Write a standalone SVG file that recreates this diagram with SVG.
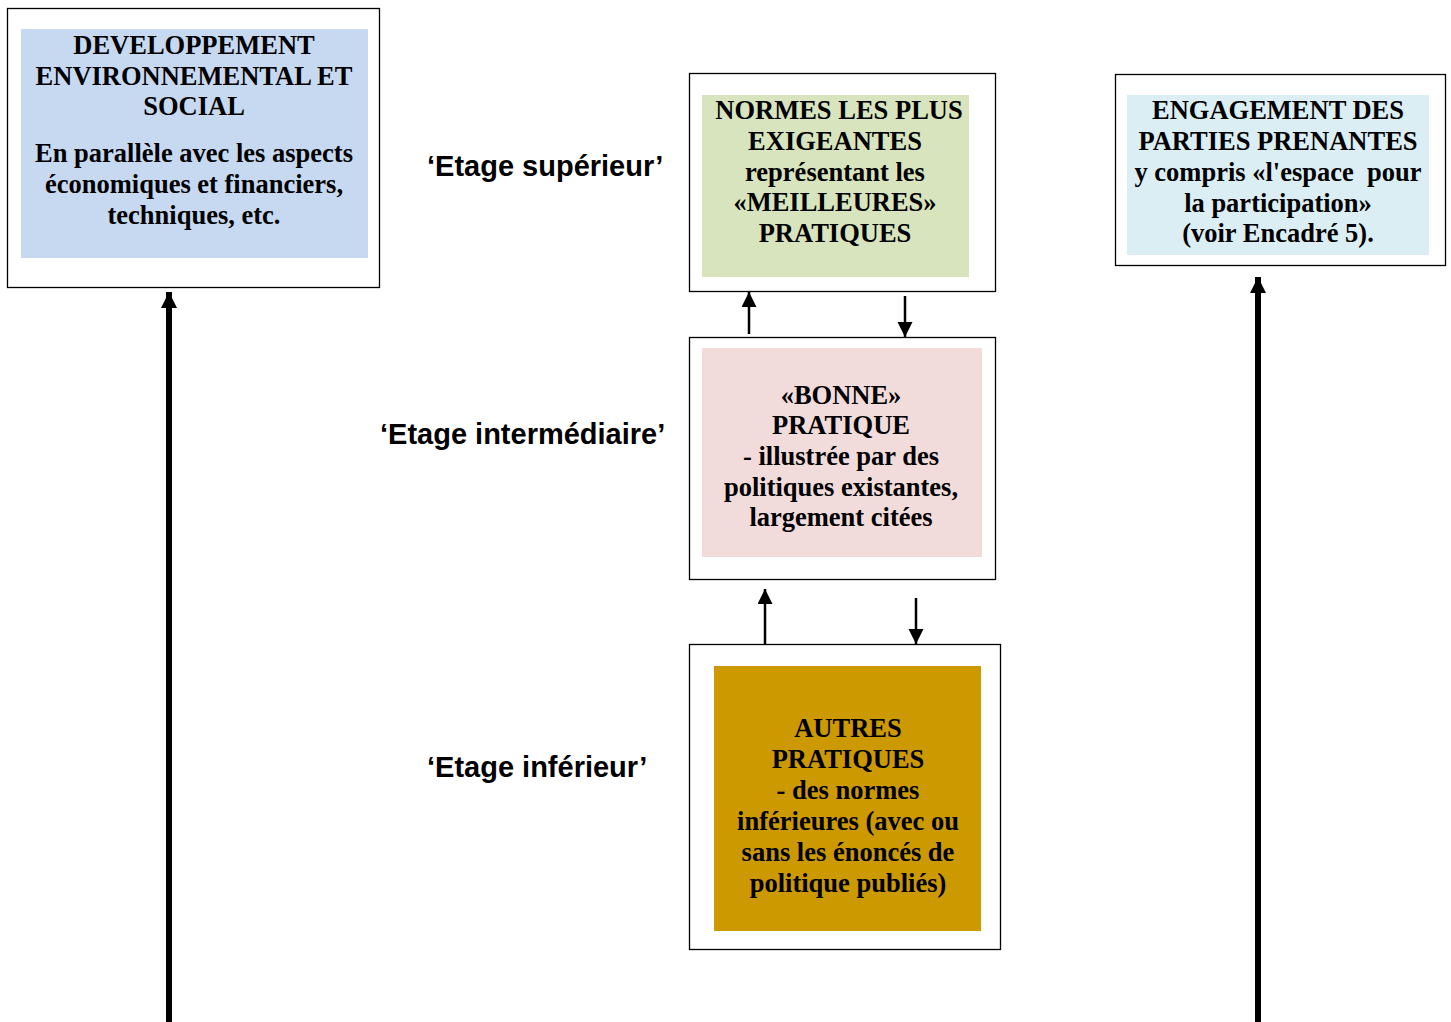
<svg xmlns="http://www.w3.org/2000/svg" width="1451" height="1022" viewBox="0 0 1451 1022">
<style>
.outer{fill:#fff;stroke:#000;stroke-width:1.3}
.t{font-family:"Liberation Serif","Times New Roman",serif;font-weight:bold;font-size:26.5px;fill:#000;text-anchor:middle}
.lbl{font-family:"Liberation Sans",Arial,sans-serif;font-weight:bold;font-size:29px;fill:#000}
.thin{stroke:#000;stroke-width:2.5;fill:none}
.thick{stroke:#000;stroke-width:6;fill:none}
</style>
<defs>
<marker id="ah" markerUnits="userSpaceOnUse" markerWidth="16" markerHeight="16" refX="15" refY="7.5" orient="auto">
<path d="M0,0 L15,7.5 L0,15 Z" fill="#000"/>
</marker>
<marker id="ahb" markerUnits="userSpaceOnUse" markerWidth="18" markerHeight="18" refX="16" refY="8" orient="auto">
<path d="M0,0 L16,8 L0,16 Z" fill="#000"/>
</marker>
</defs>
<rect width="1451" height="1022" fill="#fff"/>

<g id="connectors">
<line class="thick" x1="169" y1="1022" x2="169" y2="292" marker-end="url(#ahb)"/>
<line class="thick" x1="1258" y1="1022" x2="1258" y2="277" marker-end="url(#ahb)"/>
<line class="thin" x1="749" y1="334" x2="749" y2="292" marker-end="url(#ah)"/>
<line class="thin" x1="905" y1="296" x2="905" y2="337" marker-end="url(#ah)"/>
<line class="thin" x1="765" y1="644" x2="765" y2="589" marker-end="url(#ah)"/>
<line class="thin" x1="916" y1="598" x2="916" y2="644" marker-end="url(#ah)"/>
</g>

<g id="node-dev">
<rect class="outer" x="7.5" y="8.5" width="372" height="279"/>
<rect x="21" y="29" width="347" height="229" fill="#c6d9f1"/>
<text class="t" x="194" y="54">DEVELOPPEMENT</text>
<text class="t" x="194" y="85">ENVIRONNEMENTAL ET</text>
<text class="t" x="194" y="115">SOCIAL</text>
<text class="t" x="194" y="162">En parallèle avec les aspects</text>
<text class="t" x="194" y="193">économiques et financiers,</text>
<text class="t" x="194" y="224">techniques, etc.</text>
</g>

<g id="label-sup"><text class="lbl" x="427" y="176">‘Etage supérieur’</text></g>
<g id="label-int"><text class="lbl" x="380" y="444">‘Etage intermédiaire’</text></g>
<g id="label-inf"><text class="lbl" x="427" y="777">‘Etage inférieur’</text></g>

<g id="node-normes">
<rect class="outer" x="689.5" y="73.5" width="306" height="218"/>
<rect x="702" y="95" width="267" height="182" fill="#d7e4bd"/>
<text class="t" x="839" y="119">NORMES LES PLUS</text>
<text class="t" x="835" y="150">EXIGEANTES</text>
<text class="t" x="835" y="181">représentant les</text>
<text class="t" x="835" y="211">«MEILLEURES»</text>
<text class="t" x="835" y="242">PRATIQUES</text>
</g>

<g id="node-bonne">
<rect class="outer" x="689.5" y="337.5" width="306" height="242"/>
<rect x="702" y="348" width="280" height="209" fill="#f2dcdb"/>
<text class="t" x="841" y="404">«BONNE»</text>
<text class="t" x="841" y="434">PRATIQUE</text>
<text class="t" x="841" y="465">- illustrée par des</text>
<text class="t" x="841" y="496">politiques existantes,</text>
<text class="t" x="841" y="526">largement citées</text>
</g>

<g id="node-autres">
<rect class="outer" x="689.5" y="644.5" width="311" height="305"/>
<rect x="714" y="666" width="267" height="265" fill="#cc9900"/>
<text class="t" x="848" y="737">AUTRES</text>
<text class="t" x="848" y="768">PRATIQUES</text>
<text class="t" x="848" y="799">- des normes</text>
<text class="t" x="848" y="830">inférieures (avec ou</text>
<text class="t" x="848" y="861">sans les énoncés de</text>
<text class="t" x="848" y="892">politique publiés)</text>
</g>

<g id="node-engagement">
<rect class="outer" x="1115.5" y="74.5" width="330" height="191"/>
<rect x="1127" y="95" width="302" height="160" fill="#dbeef4"/>
<text class="t" x="1278" y="119">ENGAGEMENT DES</text>
<text class="t" x="1278" y="150">PARTIES PRENANTES</text>
<text class="t" x="1278" y="181" xml:space="preserve">y compris «l'espace  pour</text>
<text class="t" x="1278" y="212">la participation»</text>
<text class="t" x="1278" y="242">(voir Encadré 5).</text>
</g>
</svg>
